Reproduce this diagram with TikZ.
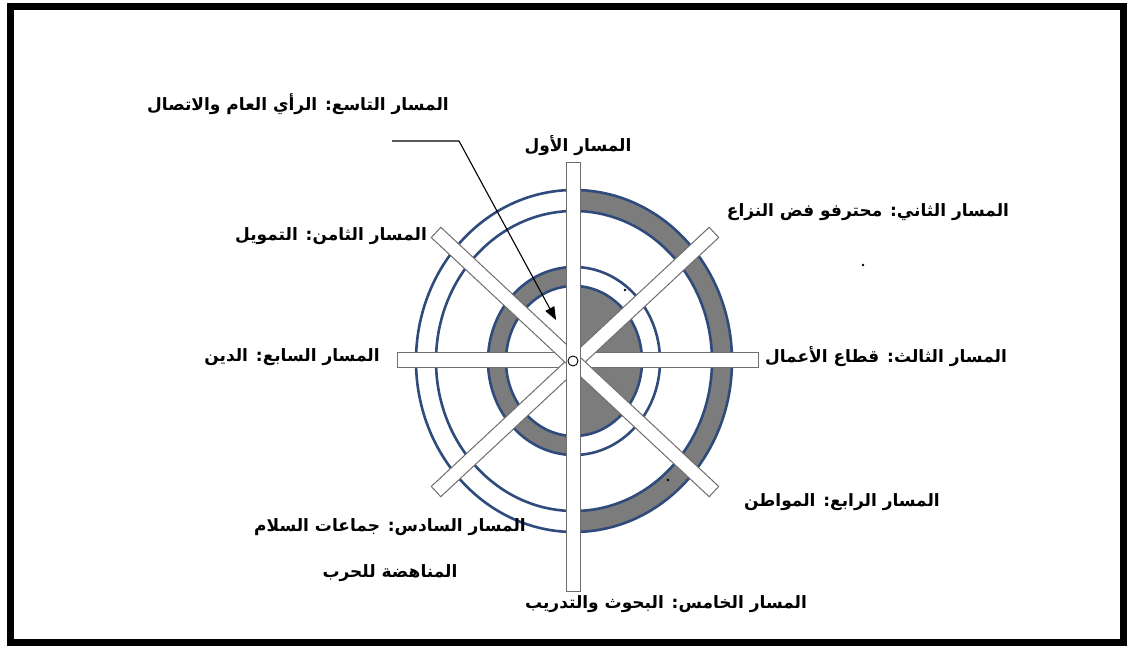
\documentclass[tikz,border=0pt]{standalone}
\usepackage{fontspec}
\usetikzlibrary{arrows.meta,calc}
\newfontfamily\arabicfont[Script=Arabic]{DejaVu Sans}
\TeXXeTstate=1
\definecolor{ringblue}{HTML}{2F4B7C}
\definecolor{ringgray}{HTML}{7C7C7C}
\definecolor{barline}{HTML}{6E6E6E}
\tikzset{
  lbl/.style={font=\arabicfont\bfseries\fontsize{17}{46}\selectfont, text=black, inner sep=1pt, align=center},
  ring/.style={draw=ringblue, line width=2.6pt},
  bar/.style={draw=barline, fill=white, line width=1pt},
  grayfill/.style={fill=ringgray, draw=none},
  dotmark/.style={fill=black, draw=none}
}
\begin{document}
\begin{tikzpicture}[x=1pt,y=1pt]
\useasboundingbox (0,0) rectangle (1133,650);
\fill[white] (0,0) rectangle (1133,650);
% frame
\draw[line width=7pt, black] (10,7) rectangle (1123,643);

\coordinate (C) at (574,289);

% gray fills
\fill[grayfill] (574,460) arc[start angle=90, end angle=-90, x radius=158, y radius=171]
  -- (574,139) arc[start angle=-90, end angle=90, x radius=138, y radius=150] -- cycle;
\fill[grayfill] (574,383) arc[start angle=90, end angle=270, x radius=86, y radius=94]
  -- (574,214) arc[start angle=270, end angle=90, x radius=68, y radius=75] -- cycle;
\fill[grayfill] (574,289) -- (574,364) arc[start angle=90, end angle=-90, x radius=68, y radius=75] -- cycle;

% rings
\draw[ring] (C) ellipse [x radius=158, y radius=171];
\draw[ring] (C) ellipse [x radius=138, y radius=150];
\draw[ring] (C) ellipse [x radius=86, y radius=94];
\draw[ring] (C) ellipse [x radius=68, y radius=75];

% bars
\draw[bar] (397,282) rectangle (758,297);
\draw[bar, rotate around={43:(575,288)}] (385,281) rectangle (765,295);
\draw[bar, rotate around={-43:(575,288)}] (385,281) rectangle (765,295);
\draw[bar] (566,58) rectangle (580,487);
\draw[bar, fill=white, draw=black, line width=0.9pt] (573,289) circle (5);

% dots
\fill[dotmark] (863,385) circle (1.4);
\fill[dotmark] (625,360) circle (1.4);
\fill[dotmark] (668,170) circle (1.4);

% labels
\node[lbl] (l9) at (298,546) {\beginR المسار التاسع: الرأي العام والاتصال\endR};
\node[lbl] (l1) at (578,504) {\beginR المسار الأول\endR};
\node[lbl] (l2) at (868,438) {\beginR المسار الثاني: محترفو فض النزاع\endR};
\node[lbl] (l8) at (331,414) {\beginR المسار الثامن: التمويل\endR};
\node[lbl] (l7) at (292,293) {\beginR المسار السابع: الدين\endR};
\node[lbl] (l3) at (886,293) {\beginR المسار الثالث: قطاع الأعمال\endR};
\node[lbl] (l4) at (842,148) {\beginR المسار الرابع: المواطن\endR};
\node[lbl] (l6) at (390,100) {\beginR المسار السادس: جماعات السلام\endR\\\beginR المناهضة للحرب\endR};
\node[lbl] (l5) at (666,46) {\beginR المسار الخامس: البحوث والتدريب\endR};

% arrow
\coordinate (a0) at (392,509);
\coordinate (a1) at (459,509);
\coordinate (a2) at (556,330);
\draw[line width=1.1pt, -{Triangle[length=13pt,width=10pt]}] (a0) -- (a1) -- (a2);
\end{tikzpicture}
\end{document}
